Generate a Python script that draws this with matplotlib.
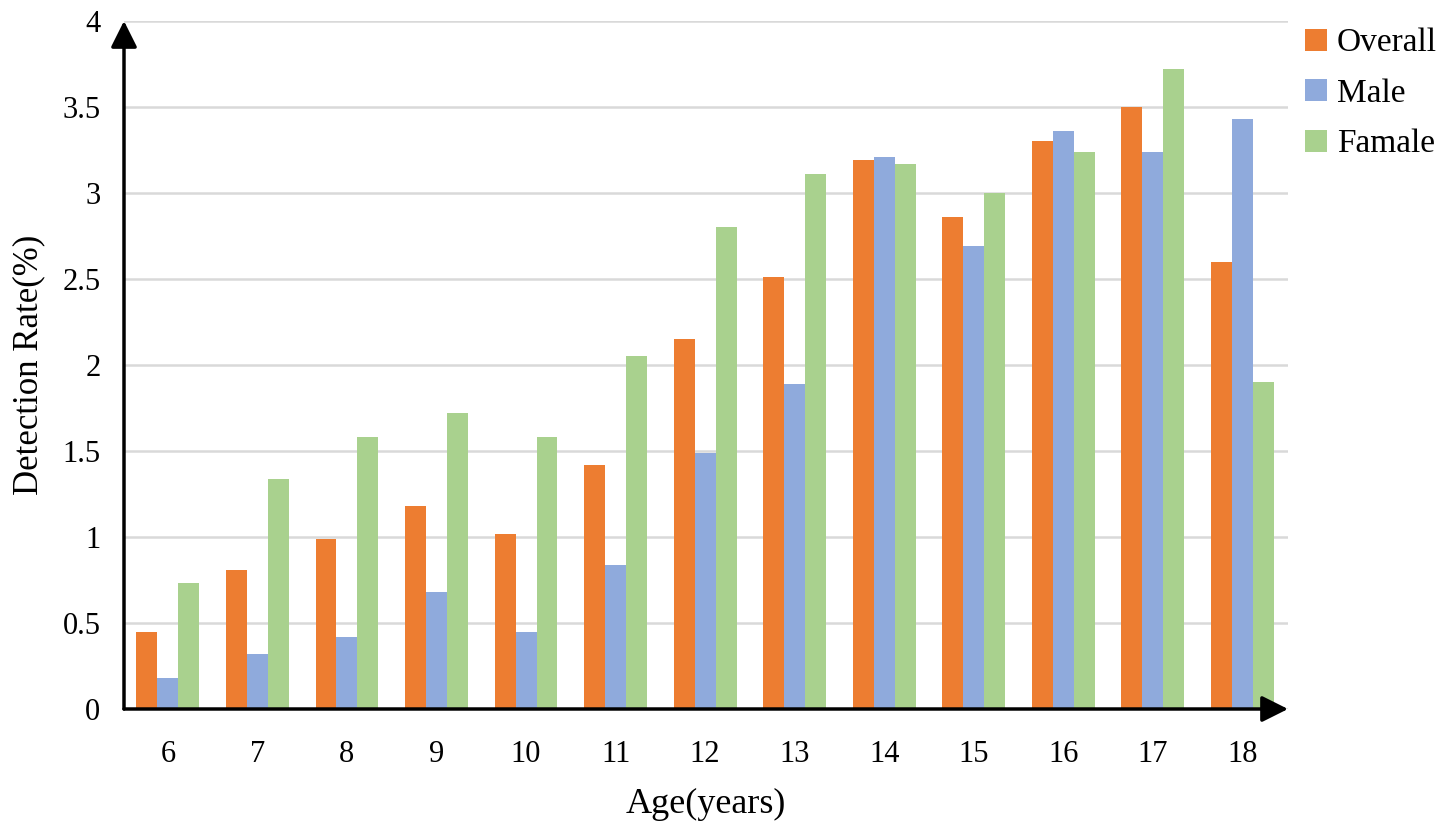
import matplotlib
matplotlib.use("Agg")
import matplotlib.pyplot as plt
import numpy as np

plt.rcParams['font.family'] = ['Liberation Serif', 'DejaVu Serif']

ages = ['6', '7', '8', '9', '10', '11', '12', '13', '14', '15', '16', '17', '18']
overall = [0.45, 0.81, 0.99, 1.18, 1.02, 1.42, 2.15, 2.51, 3.19, 2.86, 3.30, 3.50, 2.60]
male = [0.18, 0.32, 0.42, 0.68, 0.45, 0.84, 1.49, 1.89, 3.21, 2.69, 3.36, 3.24, 3.43]
female = [0.73, 1.34, 1.58, 1.72, 1.58, 2.05, 2.80, 3.11, 3.17, 3.00, 3.24, 3.72, 1.90]
series_names = ['Overall', 'Male', 'Famale']
colors = ['#ED7D31', '#8FAADC', '#A9D18E']

fig = plt.figure(figsize=(14.41, 8.30), dpi=100)
ax = fig.add_axes([124/1441, 1 - 709/830, (1288 - 124)/1441, (709 - 21)/830])

x = np.arange(len(ages))
w = 0.234
for i, (vals, name) in enumerate(zip([overall, male, female], series_names)):
    ax.bar(x + (i - 1) * w, vals, width=w, color=colors[i], label=name, zorder=2)

ax.set_xlim(-0.49, len(ages) - 0.49)
ax.set_ylim(0, 4)
ax.set_yticks(np.arange(0, 4.01, 0.5))
ax.set_yticklabels(['0', '0.5', '1', '1.5', '2', '2.5', '3', '3.5', '4'])
ax.set_xticks(x)
ax.set_xticklabels(ages)
ax.tick_params(axis='both', length=0, labelsize=22)
ax.tick_params(axis='y', pad=17)
ax.tick_params(axis='x', pad=22)
ax.grid(axis='y', color='#D9D9D9', linewidth=1.8, zorder=0)
ax.set_axisbelow(True)
for s in ax.spines.values():
    s.set_visible(False)

# axes with arrow heads
arrow = dict(arrowstyle='-|>', mutation_scale=40, lw=2.5, color='black',
             shrinkA=0, shrinkB=0)
ax.annotate('', xy=(0, 1), xycoords='axes fraction', xytext=(0, 0),
            arrowprops=arrow, annotation_clip=False)
ax.annotate('', xy=(1, 0), xycoords='axes fraction', xytext=(0, 0),
            arrowprops=arrow, annotation_clip=False)

ax.set_xlabel('Age(years)', fontsize=26, labelpad=14)
ax.set_ylabel('Detection Rate(%)', fontsize=25, labelpad=12)

ax.legend(loc='upper left', bbox_to_anchor=(1.0146, 0.99), frameon=False,
          fontsize=24, handlelength=0.65, handleheight=0.65, handletextpad=0.3,
          labelspacing=0.6, borderaxespad=0, borderpad=0)

fig.savefig('out.png', dpi=100)
